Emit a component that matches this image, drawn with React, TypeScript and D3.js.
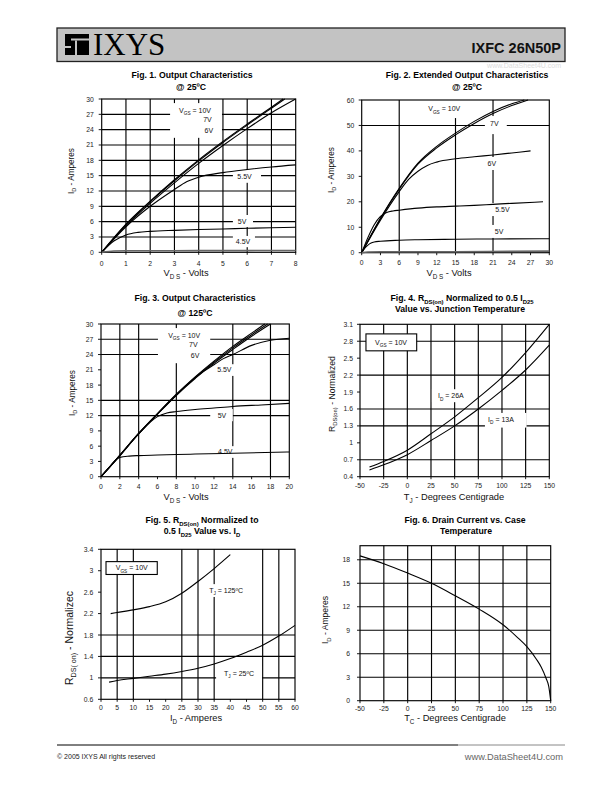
import React from 'react';
import * as d3 from 'd3';

type Pt = [number, number];

const FONT = '"Liberation Sans", Arial, Helvetica, sans-serif';

// ---------------- Fig. 1 (Output characteristics @25C) ----------------
const fig1XTicks = [0, 1, 2, 3, 4, 5, 6, 7, 8];
const fig1YTicks = [0, 3, 6, 9, 12, 15, 18, 21, 24, 27, 30];
const fig1VGrid = [1, 2, 3, 4, 5, 6, 7];
const fig1HGrid = [3, 6, 9, 12, 15, 18, 21, 24, 27];
const fig1Vgs10: Pt[] = [[0, 0], [1, 5.5], [2, 10], [3, 14.2], [4, 18.1], [5, 21.7], [6, 25.1], [7, 28.4], [7.48, 30]];
const fig1Vgs7: Pt[] = [[0, 0], [1, 5.4], [2, 9.9], [3, 14], [4, 17.9], [5, 21.5], [6, 24.9], [7, 28.2], [7.55, 30]];
const fig1Vgs6: Pt[] = [[0, 0], [1, 5.2], [2, 9.6], [3, 13.6], [4, 17.4], [5, 20.9], [6, 24.2], [7, 27.3], [8, 30]];
const fig1Vgs55: Pt[] = [[0, 0], [1, 5], [2, 9], [3, 12.3], [3.5, 13.8], [4, 14.7], [5, 15.6], [6, 16.2], [7, 16.7], [8, 17.1]];
const fig1Vgs5: Pt[] = [[0, 0], [0.5, 2.2], [1, 3.4], [1.5, 3.9], [2, 4.1], [3, 4.3], [4, 4.45], [5, 4.55], [6, 4.7], [7, 4.8], [8, 4.9]];
const fig1Vgs45: Pt[] = [[0, 0], [0.5, 0.25], [1, 0.3], [2, 0.3], [4, 0.32], [8, 0.35]];

// ---------------- Fig. 2 (Extended output characteristics @25C) ----------------
const fig2XTicks = [0, 3, 6, 9, 12, 15, 18, 21, 24, 27, 30];
const fig2YTicks = [0, 10, 20, 30, 40, 50, 60];
const fig2VGrid = [6, 15, 21];
const fig2HGrid = [50];
const fig2Vgs10: Pt[] = [[0, 0], [3, 13.5], [6, 25.3], [9, 35.2], [12, 41.8], [15, 47], [18, 51.6], [21, 55.5], [24, 58.5], [26, 60]];
const fig2Vgs7: Pt[] = [[0, 0], [3, 13.4], [6, 25], [9, 34.8], [12, 41.2], [15, 46.3], [18, 50.8], [21, 54.7], [24, 57.8], [26.6, 60]];
const fig2Vgs6: Pt[] = [[0, 0], [3, 12.8], [6, 24], [7.5, 28.8], [9, 32], [10.5, 34.3], [12, 35.6], [15, 36.9], [18, 37.7], [21, 38.4], [24, 39.2], [27, 40]];
const fig2Vgs55: Pt[] = [[0, 0], [1, 6], [2, 11], [3, 14.3], [4, 15.8], [5, 16.4], [6, 16.7], [9, 17.5], [12, 18], [15, 18.3], [18, 18.6], [21, 19], [24, 19.4], [29, 20]];
const fig2Vgs5: Pt[] = [[0, 0], [0.5, 1.8], [1, 3], [1.5, 3.8], [2, 4.2], [3, 4.5], [6, 4.9], [9, 5.1], [15, 5.3], [21, 5.4], [30, 5.5]];
const fig2Vgs45: Pt[] = [[0, 0], [1, 0.3], [3, 0.35], [15, 0.4], [30, 0.6]];

// ---------------- Fig. 3 (Output characteristics @125C) ----------------
const fig3XTicks = [0, 2, 4, 6, 8, 10, 12, 14, 16, 18, 20];
const fig3YTicks = [0, 3, 6, 9, 12, 15, 18, 21, 24, 27, 30];
const fig3VGrid = [2, 4, 8, 14, 18];
const fig3HGrid = [12, 15, 24, 27];
const fig3Vgs10: Pt[] = [[0, 0], [2, 4.2], [4, 8.5], [6, 12.4], [8, 16.2], [10, 19.6], [12, 22.7], [14, 25.6], [16, 28.2], [17.4, 30]];
const fig3Vgs7: Pt[] = [[0, 0], [2, 4.2], [4, 8.5], [6, 12.4], [8, 16.1], [10, 19.5], [12, 22.5], [14, 25.3], [16, 27.9], [17.7, 30]];
const fig3Vgs6: Pt[] = [[0, 0], [2, 4.2], [4, 8.5], [6, 12.3], [8, 16], [10, 19.4], [12, 22.3], [14, 25], [16, 27.6], [18, 30]];
const fig3Vgs55: Pt[] = [[0, 0], [2, 4.2], [4, 8.4], [6, 12.3], [8, 16], [10, 19.3], [11, 20.8], [12, 22], [13, 23.2], [14, 24], [16, 25.8], [18, 26.8], [20, 27.2]];
const fig3Vgs5: Pt[] = [[0, 0], [2, 4.1], [4, 8.4], [6, 11.8], [7, 12.5], [8, 12.8], [10, 13.2], [12, 13.5], [14, 13.8], [17, 14.1], [20, 14.4]];
const fig3Vgs45: Pt[] = [[0, 0], [1, 2.1], [1.7, 3.5], [2, 3.8], [3, 4.05], [4, 4.15], [6, 4.25], [8, 4.35], [10, 4.45], [14, 4.6], [20, 4.85]];

// ---------------- Fig. 4 (RDS(on) vs junction temperature) ----------------
const fig4XTicks = [-50, -25, 0, 25, 50, 75, 100, 125, 150];
const fig4YTicks = [0.4, 0.7, 1, 1.3, 1.6, 1.9, 2.2, 2.5, 2.8, 3.1];
const fig4VGrid = [-25, 0, 25, 50, 75, 100, 125];
const fig4HGrid = [0.7, 1.3, 1.6, 2.2, 2.8];
const fig4Id26: Pt[] = [[-40, 0.57], [-25, 0.67], [0, 0.87], [25, 1.16], [50, 1.46], [75, 1.8], [100, 2.16], [125, 2.6], [150, 3.1]];
const fig4Id13: Pt[] = [[-40, 0.52], [-25, 0.61], [0, 0.79], [25, 1.04], [50, 1.3], [75, 1.6], [100, 1.93], [125, 2.29], [150, 2.73]];

// ---------------- Fig. 5 (RDS(on) vs ID) ----------------
const fig5XTicks = [0, 5, 10, 15, 20, 25, 30, 35, 40, 45, 50, 55, 60];
const fig5YTicks = [0.6, 1, 1.4, 1.8, 2.2, 2.6, 3, 3.4];
const fig5VGrid = [5, 10, 25, 30, 35, 50, 55];
const fig5HGrid = [1, 1.4, 1.8];
const fig5Tj125: Pt[] = [[3, 2.2], [5, 2.22], [10, 2.27], [15, 2.33], [20, 2.42], [25, 2.58], [30, 2.8], [35, 3.04], [40, 3.3]];
const fig5Tj25: Pt[] = [[2.5, 0.92], [5, 0.95], [10, 0.99], [15, 1.03], [20, 1.07], [25, 1.12], [30, 1.18], [35, 1.26], [40, 1.36], [45, 1.48], [50, 1.61], [55, 1.78], [60, 1.98]];

// ---------------- Fig. 6 (Drain current vs case temperature) ----------------
const fig6XTicks = [-50, -25, 0, 25, 50, 75, 100, 125, 150];
const fig6YTicks = [0, 3, 6, 9, 12, 15, 18];
const fig6VGrid = [-25, 0, 25, 50, 75, 100, 125];
const fig6HGrid = [3, 6, 9, 12, 15, 18];
const fig6Id: Pt[] = [[-50, 18.5], [-25, 17.5], [0, 16.3], [25, 15], [50, 13.4], [75, 11.7], [100, 9.7], [115, 8.1], [125, 6.9], [135, 5.3], [140, 4.3], [145, 2.9], [148, 1.8], [150, 0]];

// ---------------- types ----------------
interface Series { pts: Pt[]; color?: string; width?: number }
interface Mask { x: [number, number]; y: [number, number]; border?: boolean }
interface Label { text: string; x: number; y: number }
interface TextPos { text: string; x: number; y: number; size?: number }
interface ChartCfg {
  box: { x0: number; x1: number; y0: number; y1: number };
  xDomain: [number, number];
  yDomain: [number, number];
  xTicks: number[];
  yTicks: number[];
  vGrid: number[];
  hGrid: number[];
  series: Series[];
  masks: Mask[];
  labels: Label[];
  titles: TextPos[];
  xTitle: TextPos;
  yTitle: TextPos;
  xTickOff: number;
  yTickGap: number;
}

const charts: ChartCfg[] = [
  {
    box: { x0: 101.7, x1: 295.7, y0: 99, y1: 252.3 },
    xDomain: [0, 8], yDomain: [0, 30], xTicks: fig1XTicks, yTicks: fig1YTicks,
    vGrid: fig1VGrid, hGrid: fig1HGrid,
    series: [
      { pts: fig1Vgs10 }, { pts: fig1Vgs7 }, { pts: fig1Vgs6 }, { pts: fig1Vgs55 },
      { pts: fig1Vgs5 }, { pts: fig1Vgs45, color: '#666', width: 1.6 },
    ],
    masks: [
      { x: [2.82, 4.96], y: [22.4, 29.2] },
      { x: [5.41, 6.57], y: [13.6, 16.1] },
      { x: [5.41, 6.24], y: [4.95, 7.3] },
      { x: [5.41, 6.32], y: [1.0, 3.2] },
    ],
    labels: [
      { text: 'V_{GS} = 10V', x: 3.85, y: 27.8 }, { text: '7V', x: 4.36, y: 25.9 },
      { text: '6V', x: 4.42, y: 23.9 }, { text: '5.5V', x: 5.89, y: 14.8 },
      { text: '5V', x: 5.79, y: 6.1 }, { text: '4.5V', x: 5.83, y: 2.07 },
    ],
    titles: [{ text: 'Fig. 1. Output Characteristics', x: 192, y: 75 }, { text: '@ 25ºC', x: 191, y: 86.7 }],
    xTitle: { text: 'V_{D S} - Volts', x: 186, y: 273, size: 9.3 },
    yTitle: { text: 'I_{D} - Amperes', x: 70.7, y: 171, size: 8.2 },
    xTickOff: 11.2, yTickGap: 8,
  },
  {
    box: { x0: 361.7, x1: 549.3, y0: 100, y1: 252.7 },
    xDomain: [0, 30], yDomain: [0, 60], xTicks: fig2XTicks, yTicks: fig2YTicks,
    vGrid: fig2VGrid, hGrid: fig2HGrid,
    series: [
      { pts: fig2Vgs10 }, { pts: fig2Vgs7 }, { pts: fig2Vgs6 }, { pts: fig2Vgs55 },
      { pts: fig2Vgs5 }, { pts: fig2Vgs45, color: '#666', width: 1.6 },
    ],
    masks: [
      { x: [8.84, 17.5], y: [52.9, 60] },
      { x: [19.7, 23.2], y: [46.6, 53.7] },
      { x: [19.9, 22.4], y: [32.5, 37.6] },
      { x: [20.8, 24.4], y: [14.4, 19.5] },
      { x: [20.8, 23.1], y: [5.8, 10.9] },
    ],
    labels: [
      { text: 'V_{GS} = 10V', x: 13.2, y: 56.5 }, { text: '7V', x: 21.2, y: 50.6 },
      { text: '6V', x: 20.8, y: 35.1 }, { text: '5.5V', x: 22.5, y: 17.0 },
      { text: '5V', x: 21.96, y: 8.3 },
    ],
    titles: [{ text: 'Fig. 2. Extended Output Characteristics', x: 467, y: 75 }, { text: '@ 25ºC', x: 467, y: 87 }],
    xTitle: { text: 'V_{D S} - Volts', x: 449, y: 272.5, size: 9.3 },
    yTitle: { text: 'I_{D} - Amperes', x: 330.7, y: 170, size: 8.2 },
    xTickOff: 9.5, yTickGap: 7.5,
  },
  {
    box: { x0: 101, x1: 289.3, y0: 324, y1: 476.7 },
    xDomain: [0, 20], yDomain: [0, 30], xTicks: fig3XTicks, yTicks: fig3YTicks,
    vGrid: fig3VGrid, hGrid: fig3HGrid,
    series: [
      { pts: fig3Vgs10 }, { pts: fig3Vgs7 }, { pts: fig3Vgs6 }, { pts: fig3Vgs55 },
      { pts: fig3Vgs5 }, { pts: fig3Vgs45 },
    ],
    masks: [
      { x: [6.05, 11.6], y: [22.3, 29.2] },
      { x: [12.0, 14.3], y: [19.8, 22.1] },
      { x: [11.6, 14.0], y: [10.9, 13.3] },
      { x: [12.0, 14.3], y: [3.7, 6.0] },
    ],
    labels: [
      { text: 'V_{GS} = 10V', x: 8.83, y: 27.8 }, { text: '7V', x: 9.8, y: 25.9 },
      { text: '6V', x: 10, y: 23.8 }, { text: '5.5V', x: 13.1, y: 21.0 },
      { text: '5V', x: 12.85, y: 12.1 }, { text: '4.5V', x: 13.2, y: 4.9 },
    ],
    titles: [{ text: 'Fig. 3. Output Characteristics', x: 195, y: 297.7 }, { text: '@ 125ºC', x: 195, y: 313 }],
    xTitle: { text: 'V_{D S} - Volts', x: 186, y: 496.5, size: 9.3 },
    yTitle: { text: 'I_{D} - Amperes', x: 71.7, y: 393, size: 8.2 },
    xTickOff: 9.3, yTickGap: 7.7,
  },
  {
    box: { x0: 360, x1: 549.3, y0: 324.3, y1: 476.7 },
    xDomain: [-50, 150], yDomain: [0.4, 3.1], xTicks: fig4XTicks, yTicks: fig4YTicks,
    vGrid: fig4VGrid, hGrid: fig4HGrid,
    series: [{ pts: fig4Id26 }, { pts: fig4Id13 }],
    masks: [
      { x: [-43.7, 9.9], y: [2.63, 2.93], border: true },
      { x: [26, 66], y: [1.72, 1.95] },
      { x: [82, 126], y: [1.27, 1.53] },
    ],
    labels: [
      { text: 'V_{GS} = 10V', x: -17.2, y: 2.78 },
      { text: 'I_{D} = 26A', x: 46, y: 1.83 },
      { text: 'I_{D} = 13A', x: 99, y: 1.42 },
    ],
    titles: [
      { text: 'Fig. 4. R_{DS(on)} Normalized to 0.5 I_{D25}', x: 462, y: 298 },
      { text: 'Value vs. Junction Temperature', x: 460, y: 309 },
    ],
    xTitle: { text: 'T_{J} - Degrees Centigrade', x: 454, y: 496.5, size: 9.3 },
    yTitle: { text: 'R_{DS(on)} - Normalized', x: 331.7, y: 394, size: 8.6 },
    xTickOff: 8.5, yTickGap: 7,
  },
  {
    box: { x0: 101, x1: 295, y0: 549.3, y1: 699.3 },
    xDomain: [0, 60], yDomain: [0.6, 3.4], xTicks: fig5XTicks, yTicks: fig5YTicks,
    vGrid: fig5VGrid, hGrid: fig5HGrid,
    series: [{ pts: fig5Tj125 }, { pts: fig5Tj25 }],
    masks: [
      { x: [1.55, 17.4], y: [2.93, 3.17], border: true },
      { x: [32.2, 45.2], y: [2.51, 2.75] },
      { x: [35.6, 49.8], y: [0.94, 1.22] },
    ],
    labels: [
      { text: 'V_{GS} = 10V', x: 9.5, y: 3.05 },
      { text: 'T_{J} = 125ºC', x: 38.7, y: 2.63 },
      { text: 'T_{J} = 25ºC', x: 42.7, y: 1.08 },
    ],
    titles: [
      { text: 'Fig. 5. R_{DS(on)} Normalized to', x: 202, y: 520 },
      { text: '0.5 I_{D25} Value vs. I_{D}', x: 202, y: 531 },
    ],
    xTitle: { text: 'I_{D} - Amperes', x: 196, y: 717.5, size: 9.3 },
    yTitle: { text: 'R_{DS( on)} - Normalizec', x: 70, y: 638, size: 10.5 },
    xTickOff: 8, yTickGap: 7.7,
  },
  {
    box: { x0: 360, x1: 550.7, y0: 545.7, y1: 700.7 },
    xDomain: [-50, 150], yDomain: [0, 19.8], xTicks: fig6XTicks, yTicks: fig6YTicks,
    vGrid: fig6VGrid, hGrid: fig6HGrid,
    series: [{ pts: fig6Id }],
    masks: [],
    labels: [],
    titles: [
      { text: 'Fig. 6. Drain Current vs. Case', x: 465, y: 520 },
      { text: 'Temperature', x: 466, y: 531 },
    ],
    xTitle: { text: 'T_{C} - Degrees Centigrade', x: 455, y: 717.5, size: 9.3 },
    yTitle: { text: 'I_{D} - Amperes', x: 325, y: 620, size: 8.6 },
    xTickOff: 7.3, yTickGap: 10,
  },
];

// parse "V_{GS} = 10V" into segments
function parseRich(s: string): { t: string; sub: boolean }[] {
  const out: { t: string; sub: boolean }[] = [];
  const re = /_\{([^}]*)\}/g;
  let last = 0;
  let m: RegExpExecArray | null;
  while ((m = re.exec(s))) {
    if (m.index > last) out.push({ t: s.slice(last, m.index), sub: false });
    out.push({ t: m[1], sub: true });
    last = m.index + m[0].length;
  }
  if (last < s.length) out.push({ t: s.slice(last), sub: false });
  return out;
}

function Rich(props: {
  text: string; x: number; y: number; size: number; anchor?: string;
  weight?: string; fill?: string; rotate?: boolean; spacing?: number;
}) {
  const { text, x, y, size, anchor = 'middle', weight = 'normal', fill = '#111', rotate, spacing = 0 } = props;
  const segs = parseRich(text);
  let prevSub = false;
  const shift = size * 0.32;
  const children = segs.map((sg, i) => {
    let dy = 0;
    if (sg.sub && !prevSub) dy = shift;
    if (!sg.sub && prevSub) dy = -shift;
    prevSub = sg.sub;
    return (
      <tspan key={i} dy={dy} fontSize={sg.sub ? size * 0.68 : size} style={{ whiteSpace: 'pre' }}>
        {sg.t}
      </tspan>
    );
  });
  return (
    <text
      x={x}
      y={y}
      fontSize={size}
      fontFamily={FONT}
      fontWeight={weight}
      textAnchor={anchor as any}
      fill={fill}
      letterSpacing={spacing}
      transform={rotate ? `rotate(-90 ${x} ${y})` : undefined}
      style={{ whiteSpace: 'pre' }}
    >
      {children}
    </text>
  );
}

function fmt(v: number): string {
  return String(+v.toFixed(2));
}

function Chart({ c }: { c: ChartCfg }) {
  const { box } = c;
  const x = d3.scaleLinear().domain(c.xDomain).range([box.x0, box.x1]);
  const y = d3.scaleLinear().domain(c.yDomain).range([box.y1, box.y0]);
  const line = d3.line<Pt>().x((d) => x(d[0])).y((d) => y(d[1])).curve(d3.curveMonotoneX);
  const sw = 1.15;
  const tickFont = 6.8;
  return (
    <g>
      {c.vGrid.map((v) => (
        <line key={'v' + v} x1={x(v)} x2={x(v)} y1={box.y0} y2={box.y1} stroke="#000" strokeWidth={sw} />
      ))}
      {c.hGrid.map((v) => (
        <line key={'h' + v} x1={box.x0} x2={box.x1} y1={y(v)} y2={y(v)} stroke="#000" strokeWidth={sw} />
      ))}
      {c.masks.map((m, i) => (
        <rect
          key={'m' + i}
          x={x(m.x[0])}
          y={y(m.y[1])}
          width={x(m.x[1]) - x(m.x[0])}
          height={y(m.y[0]) - y(m.y[1])}
          fill="#fff"
          stroke={m.border ? '#000' : 'none'}
          strokeWidth={m.border ? 1.1 : 0}
        />
      ))}
      <rect x={box.x0} y={box.y0} width={box.x1 - box.x0} height={box.y1 - box.y0} fill="none" stroke="#000" strokeWidth={sw} />
      {c.xTicks.map((v) => (
        <g key={'xt' + v}>
          <line x1={x(v)} x2={x(v)} y1={box.y1} y2={box.y1 + 2.5} stroke="#000" strokeWidth={0.9} />
          <text x={x(v)} y={box.y1 + c.xTickOff} fontSize={tickFont} fontFamily={FONT} textAnchor="middle" dominantBaseline="central" fill="#222">
            {fmt(v)}
          </text>
        </g>
      ))}
      {c.yTicks.map((v) => (
        <g key={'yt' + v}>
          <line x1={box.x0 - 3} x2={box.x0} y1={y(v)} y2={y(v)} stroke="#000" strokeWidth={0.9} />
          <text x={box.x0 - c.yTickGap} y={y(v)} fontSize={tickFont} fontFamily={FONT} textAnchor="end" dominantBaseline="central" fill="#222">
            {fmt(v)}
          </text>
        </g>
      ))}
      {c.series.map((s, i) => (
        <path key={'s' + i} d={line(s.pts) || ''} fill="none" stroke={s.color || '#000'} strokeWidth={s.width || 1.1} />
      ))}
      {c.labels.map((l, i) => (
        <Rich key={'l' + i} text={l.text} x={x(l.x)} y={y(l.y) + 2.4} size={7} />
      ))}
      {c.titles.map((t, i) => (
        <Rich key={'t' + i} text={t.text} x={t.x} y={t.y + 3} size={8.7} weight="bold" fill="#000" />
      ))}
      <Rich text={c.xTitle.text} x={c.xTitle.x} y={c.xTitle.y + 3.3} size={c.xTitle.size || 9.3} />
      <Rich text={c.yTitle.text} x={c.yTitle.x + 3} y={c.yTitle.y} size={c.yTitle.size || 8.2} rotate />
    </g>
  );
}

function Header() {
  return (
    <g>
      <rect x={57} y={28} width={508} height={33.5} fill="#c3c3c3" stroke="#222" strokeWidth={1.3} />
      <rect x={65} y={34} width={24} height={21} fill="#000" />
      <rect x={71} y={38.5} width={18} height={2} fill="#c3c3c3" />
      <rect x={75} y={40.5} width={2} height={14.5} fill="#c3c3c3" />
      <rect x={65} y={46} width={6} height={2} fill="#c3c3c3" />
      <text x={93} y={55} fontFamily='"Liberation Serif", "Times New Roman", serif' fontSize={31} fill="#000">
        IXYS
      </text>
      <text x={561} y={52.5} fontFamily={FONT} fontWeight="bold" fontSize={14.5} textAnchor="end" fill="#111">
        IXFC 26N50P
      </text>
      <text x={561} y={68} fontFamily={FONT} fontSize={7} textAnchor="end" fill="#dcdcdc">
        www.DataSheet4U.com
      </text>
    </g>
  );
}

function Footer() {
  return (
    <g>
      <line x1={57} x2={458} y1={745} y2={745} stroke="#000" strokeWidth={1} />
      <line x1={458} x2={565} y1={745} y2={745} stroke="#888" strokeWidth={1} />
      <text x={57} y={759} fontFamily={FONT} fontSize={7} fill="#222">
        © 2005 IXYS All rights reserved
      </text>
      <text x={563} y={760} fontFamily={FONT} fontSize={9.3} textAnchor="end" fill="#666">
        www.DataSheet4U.com
      </text>
    </g>
  );
}

export default function App() {
  return (
    <svg
      width={595}
      height={791}
      viewBox="0 0 595 791"
      style={{ position: 'absolute', left: 0, top: 0, background: '#fff' }}
    >
      <rect x={0} y={0} width={595} height={791} fill="#fff" />
      <Header />
      {charts.map((c, i) => (
        <Chart key={i} c={c} />
      ))}
      <Footer />
    </svg>
  );
}
